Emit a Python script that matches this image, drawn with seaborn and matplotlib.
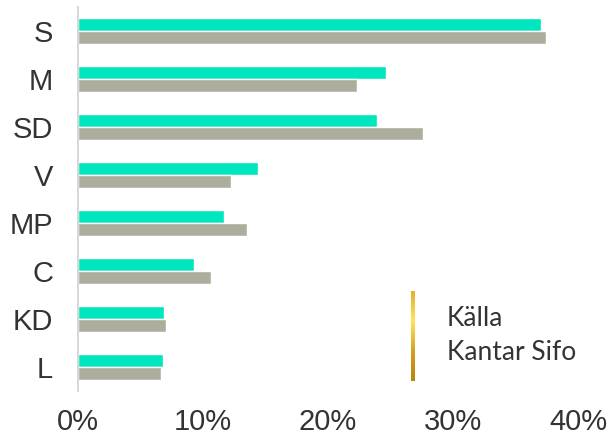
import numpy as np
import pandas as pd
import matplotlib
matplotlib.use("Agg")
import matplotlib.pyplot as plt
import seaborn as sns

parties = ["S", "M", "SD", "V", "MP", "C", "KD", "L"]
series_a = [37.0, 24.6, 23.9, 14.4, 11.7, 9.3, 6.9, 6.8]
series_b = [37.4, 22.3, 27.6, 12.2, 13.5, 10.6, 7.0, 6.6]
series_names = ["A", "B"]
xticks = [0, 10, 20, 30, 40]
xtick_labels = ["0%", "10%", "20%", "30%", "40%"]

df = pd.DataFrame({
    "party": parties * 2,
    "value": series_a + series_b,
    "series": [series_names[0]] * len(parties) + [series_names[1]] * len(parties),
})

sns.set_theme(style="white")
plt.rcParams["font.family"] = ["Liberation Sans", "DejaVu Sans"]

fig = plt.figure(figsize=(6.1, 4.41), dpi=100)
ax = fig.add_axes([78 / 610, 1 - 391 / 441, 500 / 610, 384 / 441])

sns.barplot(data=df, x="value", y="party", hue="series", order=parties,
            palette=["#00E6BE", "#ADAD9D"], width=0.55, gap=0, ax=ax,
            legend=False, saturation=1)

ax.set_xlim(0, 40)
ax.set_ylim(len(parties) - 0.5, -0.5)
ax.set_xticks(xticks)
ax.set_xticklabels(xtick_labels)
ax.set_xlabel("")
ax.set_ylabel("")
for s in ["top", "right", "bottom"]:
    ax.spines[s].set_visible(False)
ax.spines["left"].set_color("#D9D9D9")
ax.spines["left"].set_linewidth(1.5)
ax.tick_params(axis="both", length=0, labelsize=21, colors="#333333")
ax.tick_params(axis="x", pad=12)
ax.tick_params(axis="y", pad=18)

# source note with gold gradient bar
lax = fig.add_axes([410.5 / 610, 1 - 381 / 441, 3.5 / 610, 90 / 441])
grad = np.linspace(0, 1, 100).reshape(-1, 1)
cmap = matplotlib.colors.LinearSegmentedColormap.from_list(
    "gold", ["#E6B030", "#FFE45C", "#D8A020", "#B8860B"])
lax.imshow(grad, aspect="auto", cmap=cmap)
lax.axis("off")

fig.text(447 / 610, 1 - 318 / 441, "Källa", fontsize=19, color="#333333",
         family=["Lato", "DejaVu Sans"], va="center", ha="left")
fig.text(447 / 610, 1 - 353 / 441, "Kantar Sifo", fontsize=19, color="#333333",
         family=["Lato", "DejaVu Sans"], va="center", ha="left")

fig.savefig("out.png", dpi=100)
